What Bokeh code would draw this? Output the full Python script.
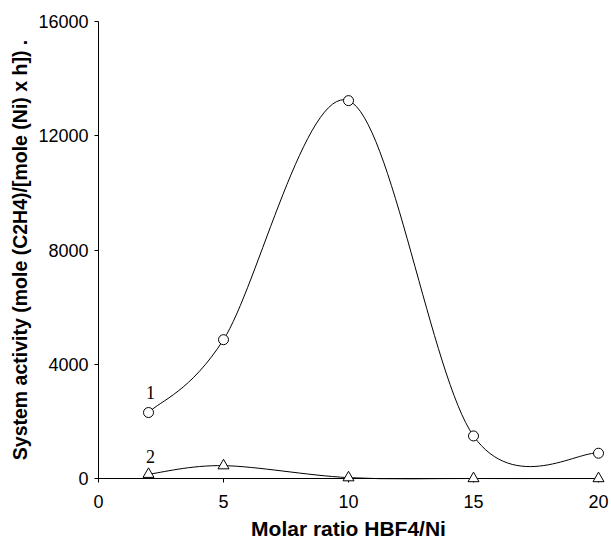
from bokeh.plotting import figure
from bokeh.models import Range1d, FixedTicker
from bokeh.core.properties import value
from bokeh.embed import file_html
from bokeh.resources import INLINE

# ---- data ----
ratio = [2, 5, 10, 15, 20]
series1 = [2310, 4860, 13230, 1490, 885]
series2 = [150, 450, 30, 0, 0]
x_ticks = [0, 5, 10, 15, 20]
y_ticks = [0, 4000, 8000, 12000, 16000]
curve_labels = ["1", "2"]
label_x = [2.08, 2.08]
label_y = [3010, 770]


def smooth_segments(xs, ys):
    """Cubic Bezier control points (Catmull-Rom style smoothing, like a spreadsheet's smoothed line)."""
    n = len(xs)
    seg = dict(x0=[], y0=[], x1=[], y1=[], cx0=[], cy0=[], cx1=[], cy1=[])
    for i in range(n - 1):
        ip = max(i - 1, 0)
        inx = min(i + 2, n - 1)
        seg["x0"].append(xs[i]); seg["y0"].append(ys[i])
        seg["x1"].append(xs[i + 1]); seg["y1"].append(ys[i + 1])
        seg["cx0"].append(xs[i] + (xs[i + 1] - xs[ip]) / 6.0)
        seg["cy0"].append(ys[i] + (ys[i + 1] - ys[ip]) / 6.0)
        seg["cx1"].append(xs[i + 1] - (xs[inx] - xs[i]) / 6.0)
        seg["cy1"].append(ys[i + 1] - (ys[inx] - ys[i]) / 6.0)
    return seg


p = figure(width=611, height=542, output_backend="svg", toolbar_location=None,
           x_range=Range1d(0, 20), y_range=Range1d(0, 16000),
           min_border_left=98, min_border_right=13, min_border_top=21, min_border_bottom=64)
p.outline_line_color = None
p.xgrid.visible = False
p.ygrid.visible = False

for ys in (series1, series2):
    s = smooth_segments(ratio, ys)
    r = p.bezier(x0=s["x0"], y0=s["y0"], x1=s["x1"], y1=s["y1"],
                 cx0=s["cx0"], cy0=s["cy0"], cx1=s["cx1"], cy1=s["cy1"],
                 line_color="black", line_width=1)
    r.level = "overlay"

r1 = p.scatter(ratio, series1, marker="circle", size=10, fill_color="white",
               line_color="black", line_width=1)
r2 = p.scatter(ratio, series2, marker="triangle", size=11, fill_color="white",
               line_color="black", line_width=1)
r1.level = "overlay"
r2.level = "overlay"

p.text(x=label_x, y=label_y, text=curve_labels, text_font=value("Liberation Serif"),
       text_font_size="18px", text_align="center", text_baseline="middle", text_color="black")

for ax in (p.xaxis[0], p.yaxis[0]):
    ax.axis_line_color = "black"
    ax.axis_line_width = 1
    ax.major_tick_line_color = "black"
    ax.major_tick_out = 4
    ax.major_tick_in = 0
    ax.minor_tick_line_color = None
    ax.major_label_text_font = "Liberation Sans"
    ax.major_label_text_font_size = "18px"
    ax.major_label_text_color = "black"
    ax.axis_label_text_font = "Liberation Sans"
    ax.axis_label_text_font_style = "bold"
    ax.axis_label_text_color = "black"

p.xaxis.ticker = FixedTicker(ticks=x_ticks)
p.yaxis.ticker = FixedTicker(ticks=y_ticks)
p.xaxis.axis_label = "Molar ratio HBF4/Ni"
p.xaxis.axis_label_text_font_size = "21px"
p.xaxis.major_label_standoff = 12
p.xaxis.axis_label_standoff = 6
p.yaxis.axis_label = "System activity (mole (C2H4)/[mole (Ni) x h]) ."
p.yaxis.axis_label_text_font_size = "19.5px"
p.yaxis.major_label_standoff = 6
p.yaxis.axis_label_standoff = 4

open("out.html", "w").write(file_html(p, INLINE))
